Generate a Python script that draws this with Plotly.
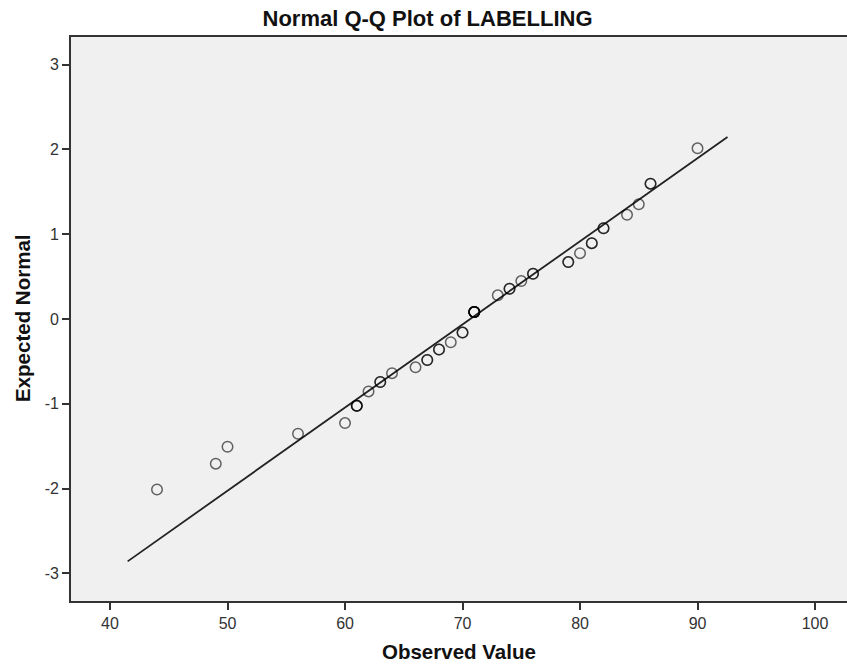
import plotly.graph_objects as go

observed = [44, 49, 50, 56, 60, 61, 62, 63, 64, 66, 67, 68, 69, 70, 71,
            73, 74, 75, 76, 79, 80, 81, 82, 84, 85, 86, 90]
tie_count = [1, 1, 1, 1, 1, 3, 1, 2, 1, 1, 2, 2, 1, 2, 6,
             1, 2, 1, 2, 2, 1, 2, 2, 1, 1, 2, 1]
expected = [-2.010, -1.706, -1.506, -1.353, -1.227, -1.024, -0.854, -0.743, -0.639,
            -0.570, -0.484, -0.360, -0.274, -0.160, 0.082, 0.279, 0.357, 0.447,
            0.534, 0.671, 0.776, 0.894, 1.070, 1.228, 1.353, 1.596, 2.012]

# Reference line parameters
line_mean = 70.65
line_sd = 10.2
line_x = [41.5, 92.55]

x_ticks = [40, 50, 60, 70, 80, 90, 100]
x_tick_labels = ["40", "50", "60", "70", "80", "90", "100"]
y_ticks = [-3, -2, -1, 0, 1, 2, 3]
y_tick_labels = ["-3", "-2", "-1", "0", "1", "2", "3"]

# expand ties so that overlapping markers render darker
px, py = [], []
for xv, yv, c in zip(observed, expected, tie_count):
    px += [xv] * c
    py += [yv] * c

line_y = [(v - line_mean) / line_sd for v in line_x]

FONT = "Liberation Sans, Arial, sans-serif"

fig = go.Figure()
fig.add_trace(go.Scatter(
    x=line_x, y=line_y, mode="lines",
    line=dict(color="#222222", width=1.8),
    hoverinfo="skip", showlegend=False))
fig.add_trace(go.Scatter(
    x=px, y=py, mode="markers",
    marker=dict(symbol="circle-open", size=10.5, color="rgba(0,0,0,0.6)",
                line=dict(width=1.5)),
    showlegend=False))

fig.update_layout(
    width=847, height=666,
    margin=dict(l=71, r=0, t=37, b=65),
    paper_bgcolor="white", plot_bgcolor="#F0F0F0",
    font=dict(family=FONT, color="#222222"),
    title=dict(text="<b>Normal Q-Q Plot of LABELLING</b>", x=427.5 / 847, xanchor="center",
               y=1 - 18 / 666, yanchor="middle", font=dict(size=22, color="#111111")),
    xaxis=dict(range=[36.68, 102.72], tickvals=x_ticks, ticktext=x_tick_labels,
               ticks="outside", ticklen=7,
               tickwidth=1.5, tickcolor="#333333", showgrid=False, zeroline=False,
               showline=True, linecolor="#333333", linewidth=1.6, mirror=True,
               tickfont=dict(size=16, color="#333333")),
    yaxis=dict(range=[-3.325, 3.325], tickvals=y_ticks, ticktext=y_tick_labels,
               ticks="outside", ticklen=7,
               tickwidth=1.5, tickcolor="#333333", showgrid=False, zeroline=False,
               showline=True, linecolor="#333333", linewidth=1.6,
               tickfont=dict(size=16, color="#333333")),
    annotations=[
        dict(text="<b>Observed Value</b>", xref="paper", yref="paper", x=0.5, y=-0.09,
             xanchor="center", yanchor="middle", showarrow=False,
             font=dict(size=20.5, color="#111111")),
        dict(text="<b>Expected Normal</b>", xref="paper", yref="paper", x=-49 / 776, y=0.5,
             xanchor="center", yanchor="middle", textangle=-90, showarrow=False,
             font=dict(size=20.5, color="#111111")),
    ],
)

fig.write_html("out.html", config={"displayModeBar": False},
               post_script="document.body.style.margin='0';document.body.style.padding='0';")
